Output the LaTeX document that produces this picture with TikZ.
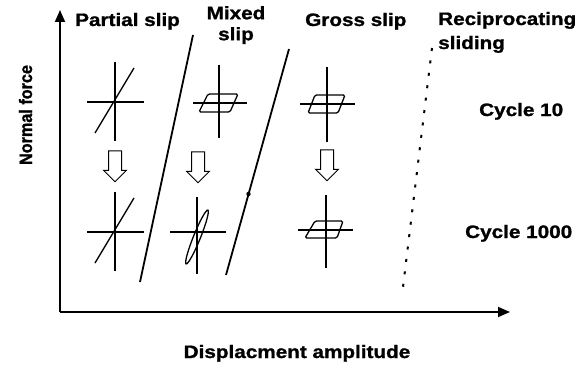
\documentclass[tikz,border=0pt]{standalone}
\usepackage{fontspec}
\usepackage{tikz}
\usetikzlibrary{arrows.meta, shapes.arrows, positioning, calc}
\newfontfamily\labfont{Liberation Sans}[FakeStretch=1.15, FakeBold=1.2]
\newfontfamily\sidefont{Liberation Sans}[FakeStretch=0.9, FakeBold=1.2]
\tikzset{
  lab/.style={font=\labfont\bfseries\fontsize{18}{21}\selectfont, inner sep=0pt, align=center},
  axis/.style={line width=1.8pt, -{Triangle[length=12pt, width=10pt]}},
  glyph/.style={line width=1.3pt},
  border/.style={line width=1.8pt},
  hollow/.style={single arrow, draw, line width=1pt, inner xsep=0pt, inner ysep=6pt,
    single arrow head extend=5pt, minimum height=31pt, rotate=-90}
}
\begin{document}
\begin{tikzpicture}[x=1pt, y=-1pt]
  \useasboundingbox (0,0) rectangle (581,369);

  % axes
  \coordinate (o) at (60,312);
  \coordinate (ytop) at (60,10);
  \coordinate (xend) at (510,312);
  \draw[axis] (o) -- (ytop);
  \draw[axis] (o) -- (xend);
  \node[lab, anchor=base] (xlab) at (297,358) {Displacment amplitude};
  \node[font=\sidefont\bfseries\fontsize{18}{21}\selectfont, inner sep=0pt, rotate=90, anchor=base] (ylab) at (32,115) {Normal force};

  % regime headings
  \node[lab, anchor=base west] (partial) at (75,26) {Partial slip};
  \node[lab, anchor=north] (mixed) at (236,6) {Mixed\\slip};
  \node[lab, anchor=base west] (gross) at (305,26) {Gross slip};
  \node[lab, anchor=base west] (recip) at (438,25) {Reciprocating};
  \node[lab, anchor=base west] (sliding) at (438,49) {sliding};
  \node[lab, anchor=base west] (c10) at (479,116) {Cycle 10};
  \node[lab, anchor=base west] (c1000) at (465,238) {Cycle 1000};

  % boundaries between regimes
  \coordinate (b1t) at (193,35);  \coordinate (b1b) at (140,282);
  \coordinate (b2t) at (289,49);  \coordinate (b2b) at (226,275);
  \coordinate (b3t) at (432,48);  \coordinate (b3b) at (403,287);
  \draw[border] (b1t) -- (b1b);
  \draw[border] (b2t) -- (b2b);
  \fill (248.5,194) circle (2.2pt);
  \draw[line width=2pt, dash pattern=on 3pt off 9.5pt] (b3t) -- (b3b);

  % loop sketches (force vs displacement)
  \coordinate (ps1) at (115,102);
  \coordinate (ps2) at (115,232);
  \coordinate (ms1) at (219,103);
  \coordinate (ms2) at (197,232);
  \coordinate (gs1) at (327,104);
  \coordinate (gs2) at (326,230);

  \foreach \c in {ps1, ps2} {
    \begin{scope}[shift={(\c)}]
      \draw[glyph] (0,-40) -- (0,39);
      \draw[glyph] (-28,0) -- (29,0);
      \draw[glyph] (-20,31) -- (19,-34);
    \end{scope}
  }

  \begin{scope}[shift={(ms1)}]
    \draw[glyph] (0,-38) -- (0,35);
    \draw[glyph] (-26,0) -- (28,0);
    \draw[glyph, rounded corners=1.5pt] (-11,-9) -- (19,-9) -- (11,9) -- (-20,9) -- cycle;
  \end{scope}

  \begin{scope}[shift={(ms2)}]
    \draw[glyph] (0,-35) -- (0,42);
    \draw[glyph] (-27,0) -- (29,0);
    \draw[glyph, rotate around={-22:(0,5)}] (0,5) ellipse [x radius=3.5, y radius=29];
  \end{scope}

  \begin{scope}[shift={(gs1)}]
    \draw[glyph] (0,-37) -- (0,38);
    \draw[glyph] (-27,0) -- (28,0);
    \draw[glyph, rounded corners=1.5pt] (-12,-9) -- (18,-9) -- (11,9) -- (-19,9) -- cycle;
  \end{scope}

  \begin{scope}[shift={(gs2)}]
    \draw[glyph] (0,-35) -- (0,38);
    \draw[glyph] (-28,0) -- (27,0);
    \draw[glyph, rounded corners=1.5pt] (-11,-9) -- (17,-9) -- (11,8) -- (-21,8) -- cycle;
  \end{scope}

  % cycle 10 -> cycle 1000
  \node[hollow] (a1) at (115,163) {};
  \node[hollow] (a2) at (198,164) {};
  \node[hollow] (a3) at (327,162) {};
\end{tikzpicture}
\end{document}
